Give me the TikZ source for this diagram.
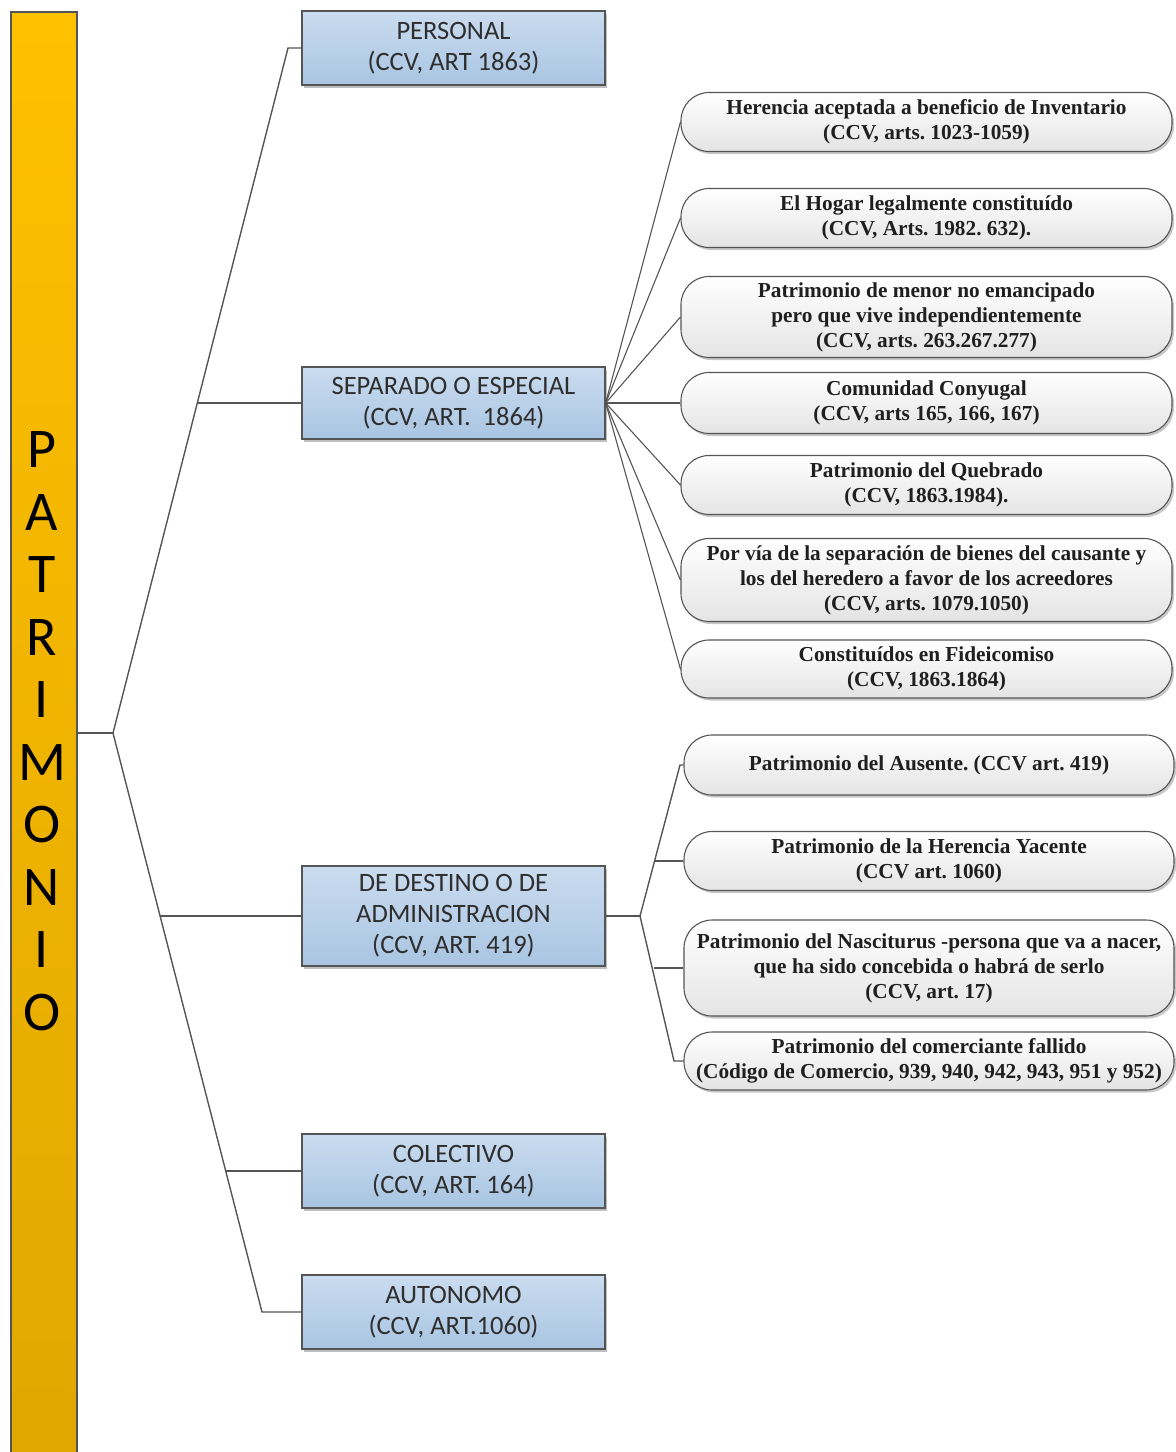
\documentclass[tikz,border=0pt]{standalone}
\usepackage{fontspec}
\setmainfont{Liberation Serif}
\newfontfamily\calfont{Carlito}
\usetikzlibrary{shadows}
\frenchspacing
\definecolor{linec}{HTML}{555555}
\definecolor{bartop}{HTML}{FFC000}
\definecolor{barbot}{HTML}{E0A800}
\definecolor{bluetop}{HTML}{CADCEF}
\definecolor{bluebot}{HTML}{A9C5E2}
\definecolor{pillbot}{HTML}{E4E4E4}
\definecolor{cattext}{HTML}{2E2E2E}
\tikzset{
  conn/.style={draw=linec, line width=1.4pt},
  cat/.style={draw=linec, line width=1.3pt, top color=bluetop, bottom color=bluebot,
    minimum width=303pt, inner sep=0pt, align=center, text=cattext,
    font=\calfont\fontsize{26.5}{31}\selectfont,
    drop shadow={shadow xshift=2pt, shadow yshift=-2.5pt, opacity=0.25, fill=black}},
  pill/.style={draw=linec, line width=1.1pt, rounded corners=28pt, top color=white, bottom color=pillbot,
    inner sep=0pt, align=center, text=black!88,
    font=\bfseries\fontsize{21.3}{25}\selectfont,
    drop shadow={shadow xshift=2pt, shadow yshift=-2.5pt, opacity=0.22, fill=black}},
  pillA/.style={pill, minimum width=491pt},
  pillB/.style={pill, minimum width=490pt},
  letter/.style={inner sep=0pt, font=\calfont\fontsize{56}{60}\selectfont, text=black}
}
\begin{document}
\begin{tikzpicture}[x=1pt,y=-1pt]
\useasboundingbox (0,0) rectangle (1176,1452);
% bar
\node[draw=linec, line width=1.5pt, top color=bartop, bottom color=barbot, minimum width=66pt,
  minimum height=1445pt, inner sep=0pt, anchor=north west] (bar) at (10,11) {};
\foreach \ch [count=\i from 0] in {P,A,T,R,I,M,O,N,I,O}
  \node[letter] (L\i) at (42,{450+62.5*\i}) {\ch};

% categories
\node[cat, minimum height=74pt] (personal) at (453.5,48) {PERSONAL\\(CCV, ART 1863)};
\node[cat, minimum height=72pt] (separado) at (453.5,403) {SEPARADO O ESPECIAL\\(CCV, ART.\ \ 1864)};
\node[cat, minimum height=100pt] (destino) at (453.5,916) {DE DESTINO O DE\\ADMINISTRACION\\(CCV, ART. 419)};
\node[cat, minimum height=74pt] (colectivo) at (453.5,1171) {COLECTIVO\\(CCV, ART. 164)};
\node[cat, minimum height=74pt] (autonomo) at (453.5,1312) {AUTONOMO\\(CCV, ART.1060)};

% main fan
\coordinate (j1) at (113,733);
\coordinate (e1) at (288,48);
\coordinate (e2) at (197,403);
\coordinate (e3) at (160,916);
\coordinate (e4) at (226,1171);
\coordinate (e5) at (262,1312);
\draw[conn] (bar.east |- j1) -- (j1);
\draw[conn] (j1) -- (e1) -- (personal.west);
\draw[conn] (j1) -- (e5) -- (autonomo.west);
\draw[conn] (e2) -- (separado.west);
\draw[conn] (e3) -- (destino.west);
\draw[conn] (e4) -- (colectivo.west);

% separado group
\node[pillA, minimum height=59pt] (s1) at (926.5,122) {Herencia aceptada a beneficio de Inventario\\(CCV, arts. 1023-1059)};
\node[pillA, minimum height=59pt] (s2) at (926.5,218) {El Hogar legalmente constituído\\(CCV, Arts. 1982. 632).};
\node[pillA, minimum height=81pt] (s3) at (926.5,317) {Patrimonio de menor no emancipado\\pero que vive independientemente\\(CCV, arts. 263.267.277)};
\node[pillA, minimum height=61pt] (s4) at (926.5,403) {Comunidad Conyugal\\(CCV, arts 165, 166, 167)};
\node[pillA, minimum height=59pt] (s5) at (926.5,485) {Patrimonio del Quebrado\\(CCV, 1863.1984).};
\node[pillA, minimum height=83pt] (s6) at (926.5,580) {Por vía de la separación de bienes del causante y\\los del heredero a favor de los acreedores\\(CCV, arts. 1079.1050)};
\node[pillA, minimum height=58pt] (s7) at (926.5,669) {Constituídos en Fideicomiso\\(CCV, 1863.1864)};
\foreach \k in {1,...,7}
  \draw[conn, line width=1.1pt] (separado.east) -- (s\k.west);

% destino group
\node[pillB, minimum height=60pt] (d1) at (929,765) {Patrimonio del Ausente. (CCV art. 419)};
\node[pillB, minimum height=59pt] (d2) at (929,861) {Patrimonio de la Herencia Yacente\\(CCV art. 1060)};
\node[pillB, minimum height=96pt] (d3) at (929,968) {Patrimonio del Nasciturus -persona que va a nacer,\\que ha sido concebida o habrá de serlo\\(CCV, art. 17)};
\node[pillB, minimum height=58pt] (d4) at (929,1061) {Patrimonio del comerciante fallido\\(Código de Comercio, 939, 940, 942, 943, 951 y 952)};
\coordinate (j2) at (640,916);
\coordinate (f1) at (680,765);
\coordinate (f2) at (655,861);
\coordinate (f3) at (654,968);
\coordinate (f4) at (674,1061);
\draw[conn] (destino.east) -- (j2);
\draw[conn] (j2) -- (f1) -- (d1.west);
\draw[conn] (j2) -- (f4) -- (d4.west);
\draw[conn] (f2) -- (d2.west);
\draw[conn] (f3) -- (d3.west);
\end{tikzpicture}
\end{document}
